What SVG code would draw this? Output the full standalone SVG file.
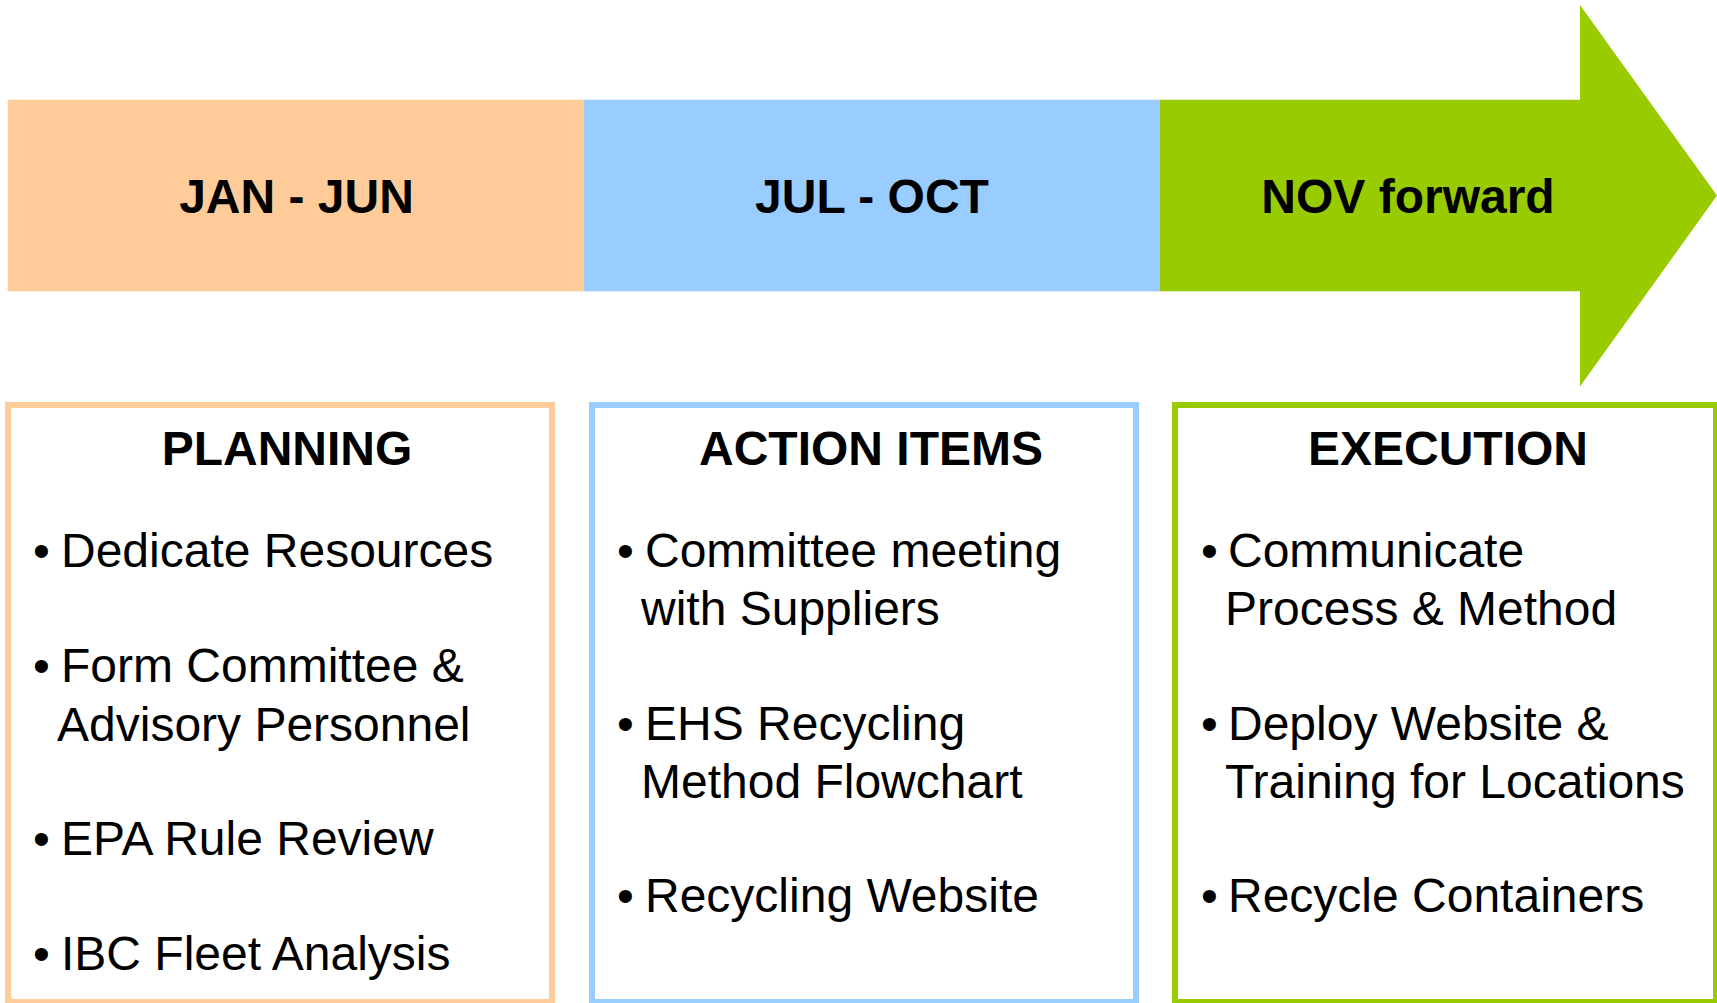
<svg xmlns="http://www.w3.org/2000/svg" width="1717" height="1003" viewBox="0 0 1717 1003">
<style>
.band{font-family:"Liberation Sans",Arial,sans-serif;font-weight:bold;font-size:48px;fill:#000;text-anchor:middle}
.title{font-family:"Liberation Sans",Arial,sans-serif;font-weight:bold;font-size:48px;fill:#000;text-anchor:middle}
.item{font-family:"Liberation Sans",Arial,sans-serif;font-size:48px;fill:#000}
.box{fill:#fff;stroke-width:6}
</style>
<rect width="1717" height="1003" fill="#fff"/>
<g id="timeline">
  <g id="jan-jun">
    <rect x="7.7" y="99.7" width="576" height="191.6" fill="#FFCC99"/>
    <text class="band" x="296.5" y="213">JAN - JUN</text>
  </g>
  <g id="jul-oct">
    <rect x="583.7" y="99.7" width="576" height="191.6" fill="#99CCFF"/>
    <text class="band" x="872" y="213">JUL - OCT</text>
  </g>
  <g id="nov-forward">
    <polygon points="1159.6,99.7 1580,99.7 1580,5 1717,195.5 1580,386.5 1580,291.3 1159.6,291.3" fill="#99CC00"/>
    <text class="band" x="1408" y="213">NOV forward</text>
  </g>
</g>
<g id="planning">
  <rect class="box" x="8" y="405" width="544" height="597" stroke="#FFCC99"/>
  <text class="title" x="287" y="465">PLANNING</text>
  <text class="item" x="33" y="567">•</text><text class="item" x="61" y="567">Dedicate Resources</text>
  <text class="item" x="33" y="682">•</text><text class="item" x="61" y="682">Form Committee &amp;</text>
  <text class="item" x="57" y="741">Advisory Personnel</text>
  <text class="item" x="33" y="855">•</text><text class="item" x="61" y="855">EPA Rule Review</text>
  <text class="item" x="33" y="970">•</text><text class="item" x="61" y="970">IBC Fleet Analysis</text>
</g>
<g id="action-items">
  <rect class="box" x="592" y="405" width="544" height="597" stroke="#99CCFF"/>
  <text class="title" x="871" y="465">ACTION ITEMS</text>
  <text class="item" x="617" y="567">•</text><text class="item" x="645" y="567">Committee meeting</text>
  <text class="item" x="641" y="625">with Suppliers</text>
  <text class="item" x="617" y="740">•</text><text class="item" x="645" y="740">EHS Recycling</text>
  <text class="item" x="641" y="798">Method Flowchart</text>
  <text class="item" x="617" y="912">•</text><text class="item" x="645" y="912">Recycling Website</text>
</g>
<g id="execution">
  <rect class="box" x="1175" y="405" width="541" height="597" stroke="#99CC00"/>
  <text class="title" x="1448" y="465">EXECUTION</text>
  <text class="item" x="1201" y="567">•</text><text class="item" x="1228" y="567">Communicate</text>
  <text class="item" x="1225" y="625">Process &amp; Method</text>
  <text class="item" x="1201" y="740">•</text><text class="item" x="1228" y="740">Deploy Website &amp;</text>
  <text class="item" x="1225" y="798">Training for Locations</text>
  <text class="item" x="1201" y="912">•</text><text class="item" x="1228" y="912">Recycle Containers</text>
</g>
<g id="connectors"></g>
</svg>
